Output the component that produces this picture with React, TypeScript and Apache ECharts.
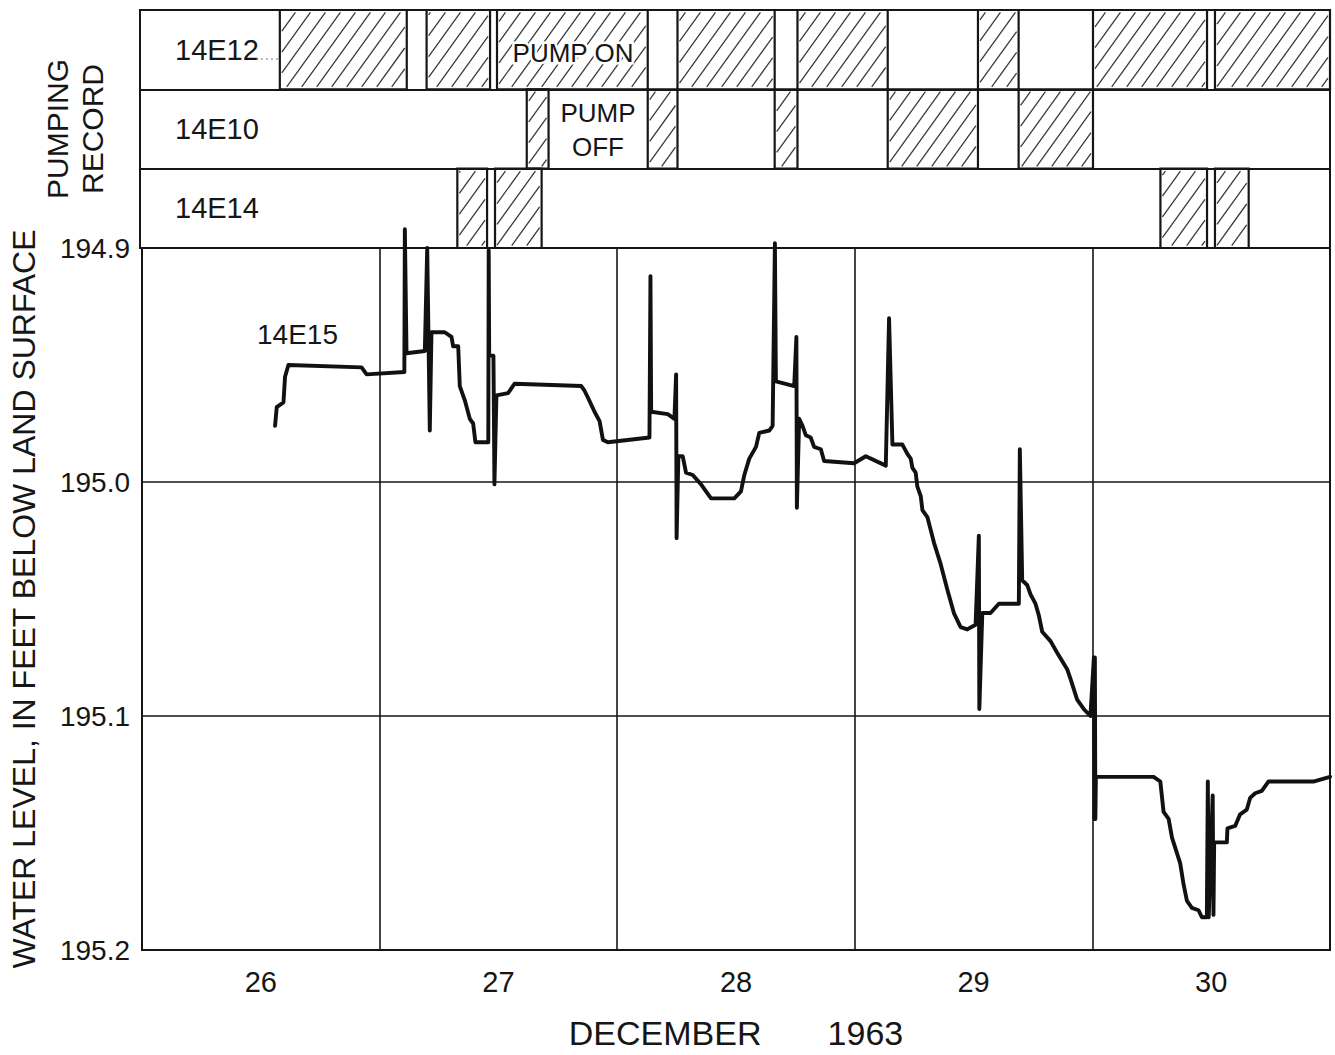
import React, { useEffect, useRef } from 'react';
import * as echarts from 'echarts';

// Pumping record (hours after 00:00, Dec 26, 1963)
const wells = ['14E12', '14E10', '14E14'];
const pump14E12 = [[14.1, 26.9], [28.9, 35.3], [36.0, 51.2], [54.2, 64.0], [66.3, 75.4], [84.5, 88.6], [96.1, 107.6], [108.4, 120]];
const pump14E10 = [[39.0, 41.2], [51.2, 54.2], [64.0, 66.3], [75.4, 84.5], [88.6, 96.1]];
const pump14E14 = [[32.0, 35.0], [35.8, 40.5], [102.9, 107.6], [108.4, 111.8]];

const dayLabels = ['26', '27', '28', '29', '30'];

// Water level in well 14E15 (hours after 00:00 Dec 26, feet below land surface)
const hours = [
  13.44, 13.61, 14.29, 14.45, 14.79, 22.18, 22.69, 26.5, 26.55, 26.72, 28.57, 28.81, 29.07, 29.24, 30.58, 31.26, 31.43, 31.94,
  32.1, 32.6, 33.11, 33.45, 33.68, 34.98, 35.02, 35.07, 35.5, 35.6, 35.8, 36.98, 37.64, 44.37, 44.7, 45.05, 45.71, 46.22,
  46.56, 47.06, 51.26, 51.36, 51.43, 53.11, 53.78, 53.95, 54.0, 54.18, 54.62, 54.95, 55.63, 56.47, 56.97, 57.48, 59.83,
  60.5, 60.84, 61.34, 62.02, 62.35, 63.36, 63.7, 63.93, 64.03, 65.88, 66.1, 66.15, 66.38, 66.72, 67.05, 67.55, 67.89,
  68.57, 68.9, 71.93, 73.11, 75.13, 75.46, 75.8, 76.81, 77.31, 77.65, 77.82, 78.15, 78.32, 78.66, 78.83, 79.33, 80.0,
  80.67, 81.35, 82.01, 82.69, 83.36, 84.2, 84.53, 84.58, 84.88, 85.71, 86.55, 88.57, 88.67, 88.91, 89.41, 89.75, 90.25,
  90.59, 90.93, 91.77, 92.44, 93.45, 93.78, 94.46, 95.12, 95.8, 96.15, 96.2, 96.25, 96.3, 96.35, 102.18, 102.86, 103.19,
  103.7, 104.04, 104.87, 105.21, 105.55, 106.05, 106.72, 107.06, 107.56, 107.66, 107.75, 108.15, 108.23, 108.3, 109.58,
  109.64, 110.42, 110.92, 111.6, 111.93, 112.44, 113.11, 113.78, 116.64, 118.32, 120.0,
];
const level = [
  194.976, 194.968, 194.966, 194.955, 194.95, 194.951, 194.954, 194.953, 194.892, 194.945, 194.944, 194.9, 194.978, 194.936,
  194.936, 194.938, 194.942, 194.942, 194.959, 194.965, 194.973, 194.975, 194.983, 194.983, 194.901, 194.946, 194.946,
  195.001, 194.963, 194.962, 194.958, 194.959, 194.961, 194.964, 194.97, 194.974, 194.982, 194.983, 194.981, 194.912,
  194.97, 194.971, 194.973, 194.954, 195.024, 194.989, 194.989, 194.996, 194.997, 195.001, 195.004, 195.007, 195.007,
  195.004, 194.997, 194.99, 194.985, 194.979, 194.978, 194.976, 194.898, 194.957, 194.959, 194.938, 195.011, 194.973,
  194.976, 194.98, 194.981, 194.985, 194.986, 194.991, 194.992, 194.989, 194.993, 194.93, 194.984, 194.984, 194.988,
  194.99, 194.994, 194.996, 195.002, 195.006, 195.012, 195.015, 195.026, 195.035, 195.046, 195.056, 195.062, 195.063,
  195.061, 195.023, 195.097, 195.056, 195.056, 195.052, 195.052, 194.986, 195.042, 195.044, 195.048, 195.052, 195.057,
  195.064, 195.068, 195.073, 195.08, 195.084, 195.093, 195.097, 195.1, 195.075, 195.144, 195.075, 195.144, 195.126,
  195.126, 195.128, 195.141, 195.144, 195.152, 195.163, 195.172, 195.179, 195.182, 195.183, 195.186, 195.186, 195.128,
  195.186, 195.134, 195.185, 195.154, 195.154, 195.148, 195.147, 195.142, 195.14, 195.135, 195.133, 195.132, 195.128,
  195.128, 195.128, 195.126,
];

const FONT = 'Liberation Sans';
const INK = '#161616';

export default function App() {
  const ref = useRef<HTMLDivElement>(null);
  useEffect(() => {
    if (!ref.current) return;
    const chart = echarts.init(ref.current, undefined, { renderer: 'svg' });

    const pumpData: number[][] = [];
    [pump14E12, pump14E10, pump14E14].forEach((arr, row) => {
      arr.forEach(([s, e]) => pumpData.push([s, e, row]));
    });
    const lineData = hours.map((h, i) => [h, level[i]]);

    const renderPump = (params: any, api: any) => {
      const s = api.value(0);
      const e = api.value(1);
      const r = api.value(2);
      const p0 = api.coord([s, r]);
      const p1 = api.coord([e, r]);
      const h = api.size([0, 1])[1];
      const top = p0[1] - h / 2;
      const bot = p0[1] + h / 2;
      const x0 = p0[0];
      const x1 = p1[0];
      const run = h * 0.72;
      const step = 15;
      const children: any[] = [];
      for (let c = Math.floor((x0 - run) / step) * step; c <= x1; c += step) {
        const t0 = Math.max(0.03, (x0 + 2 - c) / run);
        const t1 = Math.min(0.97, (x1 - 2 - c) / run);
        if (t1 <= t0) continue;
        children.push({
          type: 'line',
          shape: { x1: c + t0 * run, y1: bot - t0 * h, x2: c + t1 * run, y2: bot - t1 * h },
          style: { stroke: '#3a3a3a', lineWidth: 1.3 },
        });
      }
      children.push({
        type: 'rect',
        shape: { x: x0, y: top, width: x1 - x0, height: h },
        style: { fill: 'none', stroke: INK, lineWidth: 2.2 },
      });
      return { type: 'group', children };
    };

    chart.setOption({
      animation: false,
      backgroundColor: '#ffffff',
      textStyle: { fontFamily: FONT, color: INK },
      grid: [
        { left: 140, right: 5, top: 10, height: 238, show: true, borderColor: INK, borderWidth: 2, backgroundColor: 'transparent' },
        { left: 140, right: 5, top: 248, bottom: 97, show: true, borderColor: INK, borderWidth: 2, backgroundColor: 'transparent' },
      ],
      xAxis: [
        {
          gridIndex: 0, type: 'value', min: 0, max: 120,
          axisLine: { show: false }, axisTick: { show: false }, axisLabel: { show: false }, splitLine: { show: false },
        },
        {
          gridIndex: 1, type: 'value', min: 0, max: 120, interval: 12,
          axisLine: { show: false }, axisTick: { show: false }, splitLine: { show: false },
          axisLabel: {
            fontSize: 29, color: INK, fontFamily: FONT, margin: 17,
            formatter: (v: number) => (Math.round(v) % 24 === 12 ? dayLabels[(Math.round(v) - 12) / 24] : ''),
          },
          name: 'DECEMBER       1963', nameLocation: 'middle', nameGap: 66,
          nameTextStyle: { fontSize: 34, color: INK, fontFamily: FONT },
        },
        {
          gridIndex: 1, type: 'value', min: 0, max: 120, interval: 24,
          axisLine: { show: false }, axisTick: { show: false }, axisLabel: { show: false },
          splitLine: { show: true, lineStyle: { color: INK, width: 1.6 } },
        },
      ],
      yAxis: [
        {
          gridIndex: 0, type: 'category', data: wells, inverse: true,
          axisLine: { show: false }, axisTick: { show: false },
          splitLine: { show: true, lineStyle: { color: INK, width: 2 } },
          axisLabel: { inside: true, margin: 35, fontSize: 29, color: INK, fontFamily: FONT, padding: [8, 0, 0, 0] },
          name: 'PUMPING\nRECORD', nameLocation: 'middle', nameRotate: 90, nameGap: 30,
          nameTextStyle: { fontSize: 30, lineHeight: 35, color: INK, fontFamily: FONT, align: 'center' },
        },
        {
          gridIndex: 1, type: 'value', inverse: true, min: 194.9, max: 195.2, interval: 0.1,
          axisLine: { show: false }, axisTick: { show: false },
          splitLine: { show: true, lineStyle: { color: INK, width: 1.6 } },
          axisLabel: { fontSize: 28, color: INK, fontFamily: FONT, margin: 12, formatter: (v: number) => v.toFixed(1) },
          name: 'WATER LEVEL, IN FEET BELOW LAND SURFACE', nameLocation: 'middle', nameRotate: 90, nameGap: 102,
          nameTextStyle: { fontSize: 32, color: INK, fontFamily: FONT },
        },
      ],
      series: [
        {
          type: 'custom', name: 'Pumping', xAxisIndex: 0, yAxisIndex: 0,
          renderItem: renderPump, data: pumpData, encode: { x: [0, 1], y: 2 },
        },
        {
          type: 'line', name: '14E15', xAxisIndex: 1, yAxisIndex: 1, data: lineData,
          showSymbol: false, clip: false, z: 5,
          lineStyle: { color: '#111', width: 3.9, join: 'round', cap: 'round' },
        },
      ],
      graphic: [
        { type: 'text', z: 100, left: 257, top: 320, style: { text: '14E15', fontSize: 28, fill: INK, fontFamily: FONT } },
        {
          type: 'text', z: 100, x: 573, y: 53,
          style: { text: 'PUMP ON', fontSize: 26, fill: INK, fontFamily: FONT, align: 'center', verticalAlign: 'middle', stroke: '#fff', lineWidth: 5 },
        },
        {
          type: 'text', z: 100, x: 598, y: 130,
          style: { text: 'PUMP\nOFF', fontSize: 26, lineHeight: 34, fill: INK, fontFamily: FONT, align: 'center', verticalAlign: 'middle' },
        },
        { type: 'line', z: 100, shape: { x1: 256, y1: 59, x2: 278, y2: 59 }, style: { stroke: '#777', lineWidth: 1.2, lineDash: [2, 3] } },
      ],
    });
    return () => chart.dispose();
  }, []);
  return <div ref={ref} style={{ position: 'fixed', left: 0, top: 0, width: 1335, height: 1055, background: '#fff' }} />;
}
